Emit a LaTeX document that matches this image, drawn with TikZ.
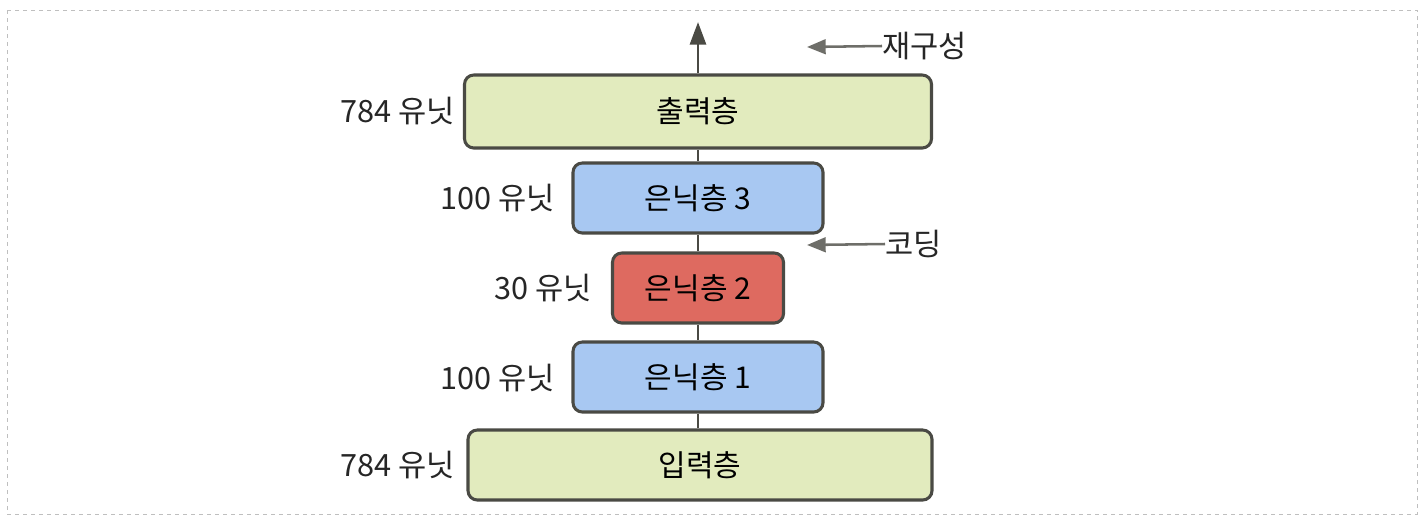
\documentclass[tikz,border=0pt]{standalone}
\usepackage{fontspec}
\setmainfont{Noto Sans CJK KR}
\usetikzlibrary{arrows.meta}
\definecolor{lgreen}{HTML}{E2EBBE}
\definecolor{lblue}{HTML}{A8C8F2}
\definecolor{lred}{HTML}{DE6A60}
\definecolor{edge}{HTML}{4A4A44}
\begin{document}
\begin{tikzpicture}[x=0.75pt,y=-0.75pt,
  layer/.style={draw=edge,line width=2.3pt,rounded corners=7pt,inner sep=0pt,
    font=\fontsize{22.5}{26}\selectfont,text=black},
  unitlabel/.style={anchor=east,font=\fontsize{23}{26}\selectfont,text=black!85,inner sep=0pt},
  conn/.style={draw=edge,line width=2.2pt},
  note/.style={anchor=west,font=\fontsize{23}{26}\selectfont,text=black!85,inner sep=0pt},
  pointer/.style={draw=edge!80,line width=1.9pt,-{Triangle[length=14pt,width=11pt]}}]
\useasboundingbox (0,0) rectangle (1425,526);
\draw[black!25,dashed,line width=0.6pt] (7,10) rectangle (1417,514);

\node[layer,fill=lgreen,minimum width=467*0.75pt,minimum height=73*0.75pt] (out) at (698,111.5) {출력층};
\node[layer,fill=lblue,minimum width=250*0.75pt,minimum height=70*0.75pt] (h3) at (698,198) {은닉층 3};
\node[layer,fill=lred,minimum width=171*0.75pt,minimum height=70*0.75pt] (h2) at (698,288) {은닉층 2};
\node[layer,fill=lblue,minimum width=250*0.75pt,minimum height=70*0.75pt] (h1) at (698,377) {은닉층 1};
\node[layer,fill=lgreen,minimum width=464*0.75pt,minimum height=70*0.75pt] (in) at (700,465) {입력층};

\draw[conn] (in.north -| h1.south) -- (h1.south);
\draw[conn] (h1.north) -- (h2.south);
\draw[conn] (h2.north) -- (h3.south);
\draw[conn] (h3.north) -- (out.south);
\coordinate (top) at (698,22);
\draw[conn,-{Triangle[length=17pt,width=12pt]}] (out.north) -- (top);

\node[unitlabel] (l5) at (455,111) {784 유닛};
\node[unitlabel] (l4) at (555,198) {100 유닛};
\node[unitlabel] (l3) at (592,288) {30 유닛};
\node[unitlabel] (l2) at (555,378) {100 유닛};
\node[unitlabel] (l1) at (455,465) {784 유닛};

\node[note] (rec) at (882,46) {재구성};
\coordinate (rectip) at (807,47);
\draw[pointer] (rec.west) -- (rectip);
\node[note] (cod) at (885,244) {코딩};
\coordinate (codtip) at (807,245);
\draw[pointer] (cod.west) -- (codtip);
\end{tikzpicture}
\end{document}
